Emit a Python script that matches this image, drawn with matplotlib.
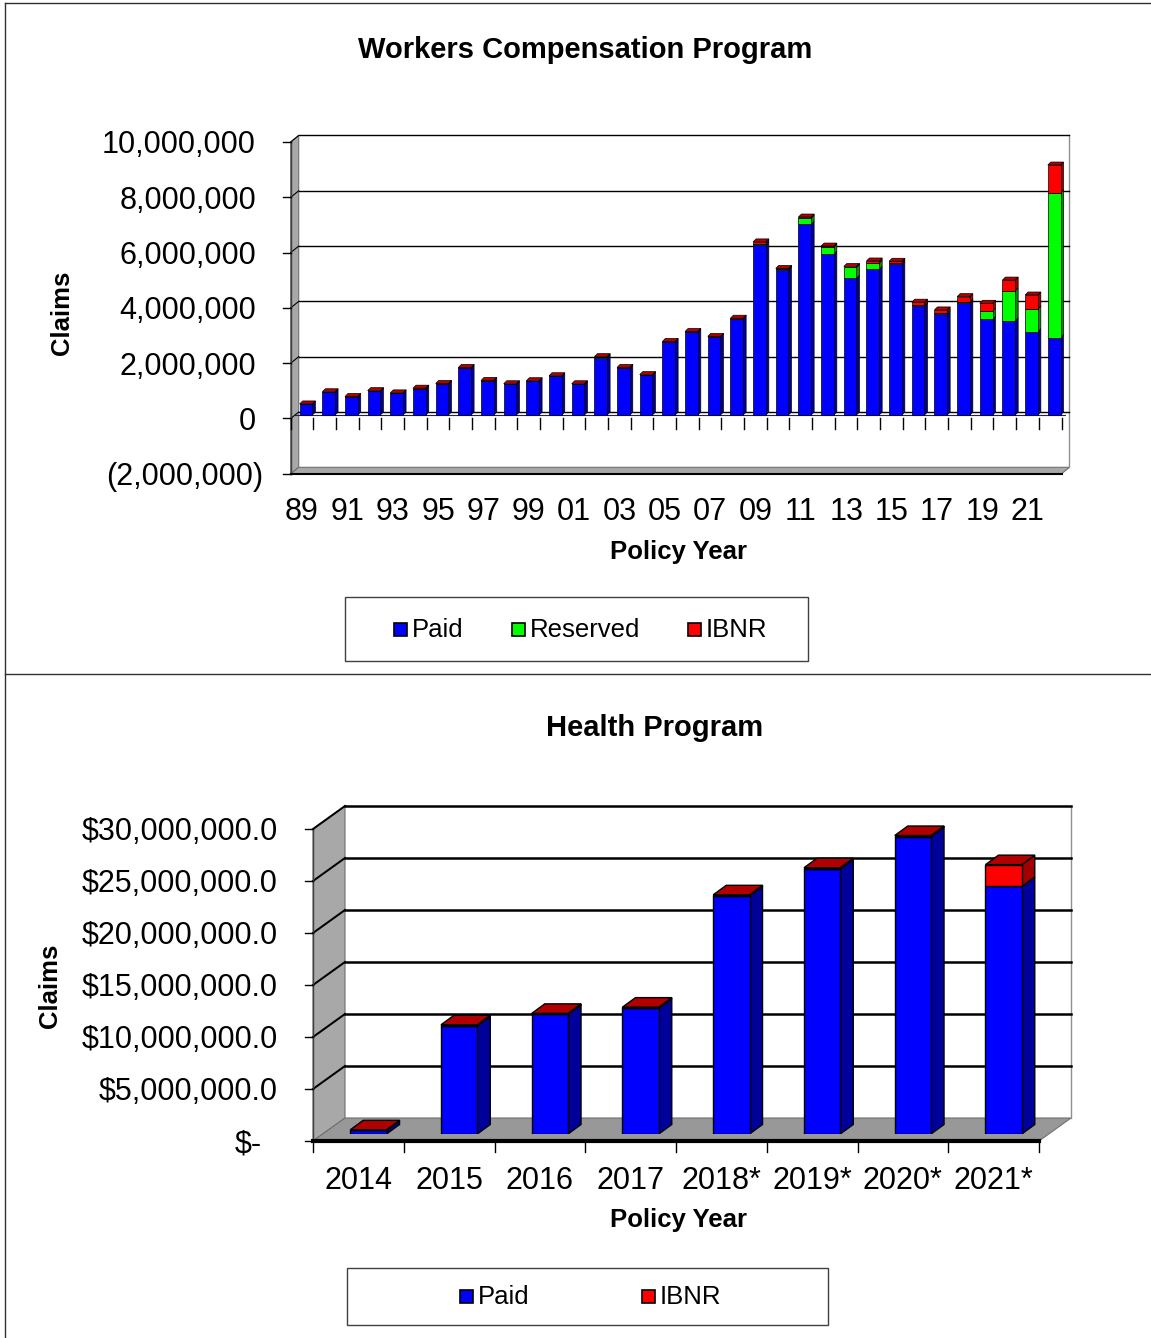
import matplotlib
matplotlib.use('Agg')
import matplotlib.pyplot as plt
from matplotlib.patches import Polygon, Rectangle
from matplotlib.lines import Line2D
from matplotlib.transforms import ScaledTranslation
import numpy as np

W, H, DPI = 1151, 1338, 100
plt.rcParams['font.family'] = ['Liberation Sans', 'DejaVu Sans']

# ---------------- data ----------------
wc_years = ['89', '90', '91', '92', '93', '94', '95', '96', '97', '98', '99',
            '00', '01', '02', '03', '04', '05', '06', '07', '08', '09', '10',
            '11', '12', '13', '14', '15', '16', '17', '18', '19', '20', '21', '22']
wc_paid = [0.38e6, 0.82e6, 0.65e6, 0.86e6, 0.78e6, 0.95e6, 1.12e6, 1.70e6, 1.23e6, 1.11e6, 1.22e6,
           1.40e6, 1.11e6, 2.05e6, 1.70e6, 1.44e6, 2.64e6, 3.00e6, 2.82e6, 3.48e6, 6.15e6, 5.25e6,
           6.90e6, 5.82e6, 4.94e6, 5.27e6, 5.45e6, 3.93e6, 3.64e6, 4.06e6, 3.46e6, 3.41e6, 3.01e6, 2.80e6]
wc_reserved = [0, 0, 0, 0, 0, 0, 0, 0, 0, 0, 0,
               0, 0, 0.04e6, 0, 0, 0, 0, 0, 0, 0.05e6, 0.02e6,
               0.22e6, 0.25e6, 0.40e6, 0.22e6, 0.05e6, 0.05e6, 0.06e6, 0.02e6, 0.30e6, 1.08e6, 0.82e6, 5.24e6]
wc_ibnr = [0.02e6, 0.02e6, 0.02e6, 0.02e6, 0.02e6, 0.02e6, 0.02e6, 0.02e6, 0.02e6, 0.02e6, 0.02e6,
           0.02e6, 0.02e6, 0.02e6, 0.02e6, 0.02e6, 0.02e6, 0.02e6, 0.02e6, 0.02e6, 0.06e6, 0.03e6,
           0.04e6, 0.04e6, 0.03e6, 0.08e6, 0.06e6, 0.10e6, 0.10e6, 0.20e6, 0.28e6, 0.39e6, 0.51e6, 1.00e6]
wc_yticks = [-2e6, 0, 2e6, 4e6, 6e6, 8e6, 10e6]
wc_ytick_labels = ['(2,000,000)', '0', '2,000,000', '4,000,000', '6,000,000', '8,000,000', '10,000,000']
wc_xtick_labels = wc_years[:-1:2]

hp_years = ['2014', '2015', '2016', '2017', '2018*', '2019*', '2020*', '2021*']
hp_paid = [0.35e6, 10.4e6, 11.5e6, 12.1e6, 22.9e6, 25.5e6, 28.6e6, 23.8e6]
hp_ibnr = [0.05e6, 0.1e6, 0.1e6, 0.1e6, 0.1e6, 0.1e6, 0.1e6, 2.1e6]
hp_yticks = [0, 5e6, 10e6, 15e6, 20e6, 25e6, 30e6]
hp_ytick_labels = ['$-', '$5,000,000.0', '$10,000,000.0', '$15,000,000.0',
                   '$20,000,000.0', '$25,000,000.0', '$30,000,000.0']

BLUE, GREEN, RED = '#0000FF', '#00FF00', '#FF0000'
SIDE = {BLUE: '#00009A', GREEN: '#009000', RED: '#A00000'}
CAP = '#B00000'
WALL = '#A8A8A8'
FLOOR = '#989898'

fig = plt.figure(figsize=(W / DPI, H / DPI), dpi=DPI)


def rect(x0, y0, x1, y1):
    return [x0 / W, 1 - y1 / H, (x1 - x0) / W, (y1 - y0) / H]


def fxy(x, y):
    return x / W, 1 - y / H


def px_offset(dx, dy):
    return ScaledTranslation(dx / DPI, -dy / DPI, fig.dpi_scale_trans)


# frame lines
for (xa, ya, xb, yb) in [(5, 3, 1151, 3), (5, 3, 5, 1338), (5, 674, 1151, 674)]:
    p0, p1 = fxy(xa, ya), fxy(xb, yb)
    fig.add_artist(Line2D([p0[0], p1[0]], [p0[1], p1[1]], color='#303030', lw=1.0))


def chart3d(box, xlim, ylim, front, back, depth, x, series, colors, width,
            yticks, ylabels, ylab_extra, xticks, xlabels, ypad_px, xpad_px,
            grid_lw, edge_lw, tick_len, xtick_len, front_lw, floor_col):
    ax = fig.add_axes(rect(*box))
    ax.set_xlim(xlim)
    ax.set_ylim(ylim)
    ax.patch.set_visible(False)
    for s in ax.spines.values():
        s.set_visible(False)
    ux = (box[2] - box[0]) / (xlim[1] - xlim[0])
    uy = (box[3] - box[1]) / (ylim[1] - ylim[0])
    fdx, fdy = front[0] / ux, -front[1] / uy
    bdx, bdy = back[0] / ux, -back[1] / uy
    ddx, ddy = depth[0] / ux, depth[1] / uy
    x0, x1 = xlim
    yb, yt = ylim
    kw = dict(clip_on=False)
    # back wall
    ax.add_patch(Rectangle((x0 + bdx, yb + bdy), x1 - x0, yt - yb, fc='white',
                           ec='none', zorder=0.1, **kw))
    # left wall
    ax.add_patch(Polygon([(x0 + fdx, yt + fdy), (x0 + bdx, yt + bdy), (x0 + bdx, yb + bdy),
                          (x0 + fdx, yb + fdy)], closed=True, fc=WALL, ec='#707070', lw=0.8,
                         zorder=0.3, **kw))
    # floor
    ax.add_patch(Polygon([(x0 + fdx, yb + fdy), (x1 + fdx, yb + fdy), (x1 + bdx, yb + bdy),
                          (x0 + bdx, yb + bdy)], closed=True, fc=floor_col, ec='#707070', lw=0.8,
                         zorder=0.3, **kw))
    # right edge of back wall
    ax.plot([x1 + bdx, x1 + bdx], [yb + bdy, yt + bdy], color='#909090', lw=1.0, zorder=0.4, **kw)
    # gridlines on back wall + diagonals across left wall
    for yv in yticks:
        if yv <= yb:
            continue
        ax.plot([x0 + bdx, x1 + bdx], [yv + bdy, yv + bdy], color='black', lw=grid_lw, zorder=0.5, **kw)
        ax.plot([x0 + fdx, x0 + bdx], [yv + fdy, yv + bdy], color='black', lw=grid_lw * 0.8,
                zorder=0.5, **kw)
    # front left edge and y tick marks
    ax.plot([x0 + fdx, x0 + fdx], [yb + fdy, yt + fdy], color='#404040', lw=1.0, zorder=0.6, **kw)
    for yv in yticks:
        ax.plot([x0 + fdx - tick_len / ux, x0 + fdx], [yv + fdy, yv + fdy], color='black',
                lw=1.0, zorder=0.6, **kw)
    # front floor edge
    ax.plot([x0 + fdx, x1 + fdx], [yb + fdy, yb + fdy], color='black', lw=front_lw, zorder=0.6, **kw)
    # bars
    x = np.asarray(x, float)
    bottom = np.zeros(len(x))
    for vals, col in zip(series, colors):
        vals = np.asarray(vals, float)
        ax.bar(x, vals, width, bottom=bottom, color=col, edgecolor='black', linewidth=edge_lw,
               zorder=3)
        for xi, b, h in zip(x, bottom, vals):
            if h > 0:
                xr = xi + width / 2
                ax.add_patch(Polygon([(xr, b), (xr + ddx, b + ddy), (xr + ddx, b + h + ddy), (xr, b + h)],
                                     closed=True, fc=SIDE[col], ec='black', lw=edge_lw, zorder=2.9))
        bottom = bottom + vals
    for xi, t in zip(x, bottom):
        xl_, xr = xi - width / 2, xi + width / 2
        ax.add_patch(Polygon([(xl_, t), (xl_ + ddx, t + ddy), (xr + ddx, t + ddy), (xr, t)],
                             closed=True, fc=CAP, ec='black', lw=edge_lw, zorder=3.1))
    # y tick labels (front plane)
    ax.set_yticks(yticks, ylabels)
    ax.tick_params(axis='y', length=0, pad=ypad_px * 72 / DPI, labelsize=22)
    for lab in ax.get_yticklabels():
        extra = ylab_extra.get(lab.get_text(), 0)
        lab.set_transform(lab.get_transform() + px_offset(front[0] + extra, front[1]))
    # x tick labels (front plane)
    ax.set_xticks(xticks, xlabels)
    ax.tick_params(axis='x', length=0, pad=xpad_px * 72 / DPI, labelsize=22)
    for lab in ax.get_xticklabels():
        lab.set_transform(lab.get_transform() + px_offset(front[0], front[1]))
    # category boundary ticks hanging below the front zero line
    ybase = max(yb, 0)
    for i in range(len(x) + 1):
        xv = x[0] - 0.5 + i + fdx
        ax.plot([xv, xv], [ybase + fdy, ybase + fdy - xtick_len / uy], color='black', lw=1.0,
                zorder=0.6, **kw)
    return ax, ux, uy


# ---------------- Workers Compensation ----------------
n1 = len(wc_years)
ax1, _, _ = chart3d(box=(294.7, 138.5, 1065.5, 470.3), xlim=(-0.5, n1 - 0.5), ylim=(-2e6, 10e6),
                    front=(-4, 3.5), back=(4, -3), depth=(3, 3), x=np.arange(n1),
                    series=[wc_paid, wc_reserved, wc_ibnr], colors=[BLUE, GREEN, RED], width=0.56,
                    yticks=wc_yticks, ylabels=wc_ytick_labels, ylab_extra={'(2,000,000)': 7},
                    xticks=np.arange(0, n1 - 1, 2), xlabels=wc_xtick_labels,
                    ypad_px=34.7, xpad_px=23, grid_lw=1.0, edge_lw=0.5, tick_len=8, xtick_len=11,
                    front_lw=1.5, floor_col=WALL)
# front zero line
ax1.axhline(0, color='#202060', lw=0.8, zorder=0.55)

# ---------------- Health ----------------
n2 = len(hp_years)
ax2, _, _ = chart3d(box=(323, 822, 1049, 1134), xlim=(-0.5, n2 - 0.5), ylim=(0, 30e6),
                    front=(-10, 7), back=(22, -16), depth=(13, 9.5), x=np.arange(n2),
                    series=[hp_paid, hp_ibnr], colors=[BLUE, RED], width=0.40,
                    yticks=hp_yticks, ylabels=hp_ytick_labels, ylab_extra={'$-': -16},
                    xticks=np.arange(n2), xlabels=hp_years,
                    ypad_px=35, xpad_px=25, grid_lw=1.8, edge_lw=1.0, tick_len=8, xtick_len=11,
                    front_lw=3.0, floor_col=FLOOR)

# ---------------- texts ----------------
def ftext(x, y, s, **kw):
    fig.text(*fxy(x, y), s, **kw)


ftext(585, 50, 'Workers Compensation Program', ha='center', va='center', fontsize=21, fontweight='bold')
ftext(62, 313, 'Claims', ha='center', va='center', rotation=90, fontsize=18.5, fontweight='bold')
ftext(679, 552, 'Policy Year', ha='center', va='center', fontsize=18.5, fontweight='bold')

ftext(655, 728, 'Health Program', ha='center', va='center', fontsize=21, fontweight='bold')
ftext(50, 986, 'Claims', ha='center', va='center', rotation=90, fontsize=18.5, fontweight='bold')
ftext(679, 1220, 'Policy Year', ha='center', va='center', fontsize=18.5, fontweight='bold')


# ---------------- legends ----------------
def legend_box(x0, y0, x1, y1, items):
    l, b, w, h = rect(x0, y0, x1, y1)
    fig.add_artist(Rectangle((l, b), w, h, transform=fig.transFigure, fc='white', ec='#404040', lw=1.0))
    yc = (y0 + y1) / 2
    for sx, tx, col, label in items:
        l2, b2, w2, h2 = rect(sx, yc - 6.5, sx + 13, yc + 6.5)
        fig.add_artist(Rectangle((l2, b2), w2, h2, transform=fig.transFigure, fc=col, ec='black', lw=1.2))
        ftext(tx, yc + 1, label, ha='left', va='center', fontsize=18.5)


legend_box(345, 597, 808, 661, [(394, 412, BLUE, 'Paid'), (512, 530, GREEN, 'Reserved'),
                                (688, 706, RED, 'IBNR')])
legend_box(347, 1268, 828, 1325, [(460, 478, BLUE, 'Paid'), (642, 660, RED, 'IBNR')])

fig.savefig('out.png', dpi=DPI)
